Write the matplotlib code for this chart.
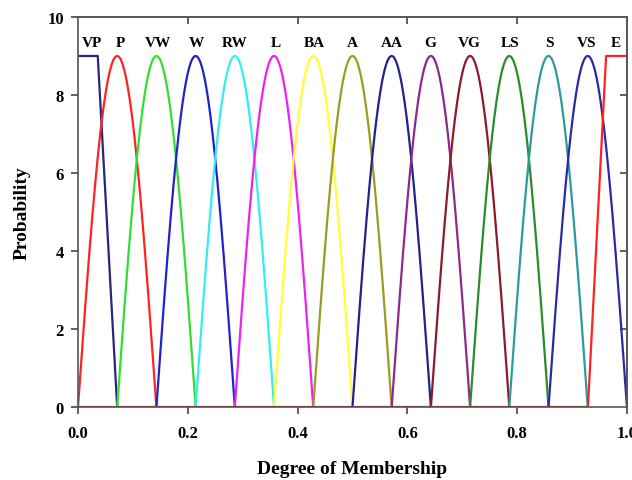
import numpy as np
import matplotlib
matplotlib.use("Agg")
import matplotlib.pyplot as plt

plt.rcParams['font.family'] = ['Liberation Serif', 'DejaVu Serif']
plt.rcParams['font.weight'] = 'bold'

labels = ["VP", "P", "VW", "W", "RW", "L", "BA", "A", "AA", "G", "VG", "LS", "S", "VS", "E"]
centers = [0.0, 0.0714, 0.1429, 0.2143, 0.2857, 0.3571, 0.4286, 0.5, 0.5714,
           0.6429, 0.7143, 0.7857, 0.8571, 0.9286, 1.0]
peak = 9.0
half_width = 0.0714
# shoulders of the end sets (flat top, then linear to zero)
vp_flat_end, vp_zero = 0.036, 0.0714
e_zero, e_flat_start = 0.929, 0.962
label_x = [0.026, 0.078, 0.145, 0.216, 0.285, 0.360, 0.43, 0.499, 0.571,
           0.642, 0.712, 0.787, 0.858, 0.927, 0.98]
colors = ["#26267f", "#ff2222", "#33dd33", "#2222cc", "#33eeee", "#ee22ee",
          "#ffff33", "#9c9c22", "#22228c", "#8c2a8c", "#8c1a2a", "#2a8c2a",
          "#2a9c9c", "#2a2aa8", "#ff2222"]

fig = plt.figure(figsize=(6.32, 4.81), dpi=100)
ax = fig.add_axes([0.1234, 0.1518, 0.8686, 0.8108])

# VP
ax.plot([0, vp_flat_end, vp_zero], [peak, peak, 0], color=colors[0], lw=1.6)
# middle arches
for c, col in zip(centers[1:-1], colors[1:-1]):
    x = np.linspace(c - half_width, c + half_width, 200)
    y = peak * np.sin(np.pi * (x - (c - half_width)) / (2 * half_width))
    ax.plot(x, y, color=col, lw=1.6)
# E
ax.plot([0, e_zero, e_flat_start, 1.0], [0, 0, peak, peak], color=colors[-1], lw=1.6)

for lx, lab in zip(label_x, labels):
    ax.text(lx, 9.35, lab, ha='center', va='center', fontsize=11, fontweight='bold')

ax.set_xlim(0, 1)
ax.set_ylim(0, 10)
ax.set_xticks([0, 0.2, 0.4, 0.6, 0.8, 1.0])
ax.set_xticklabels(["0.0", "0.2", "0.4", "0.6", "0.8", "1.0"])
ax.set_yticks([0, 2, 4, 6, 8, 10])
ax.tick_params(axis='both', which='both', labelsize=12, length=5, width=1.2,
               colors='#444444', labelcolor='black')
ax.tick_params(axis='x', direction='out', top=False, pad=8)
ax.tick_params(axis='y', direction='out', right=False, pad=5)
ax2 = ax.secondary_xaxis('top')
ax2.set_xticks([0.2, 0.4, 0.6, 0.8])
ax2.tick_params(direction='in', length=5, width=1.2, colors='#444444', labeltop=False)
ax3 = ax.secondary_yaxis('right')
ax3.set_yticks([2, 4, 6, 8])
ax3.tick_params(direction='in', length=5, width=1.2, colors='#444444', labelright=False)
for a in (ax, ax2, ax3):
    for s in a.spines.values():
        s.set_color('#555555')
        s.set_linewidth(1.2)

ax.set_xlabel("Degree of Membership", fontsize=14, fontweight='bold', labelpad=14)
ax.set_ylabel("Probability", fontsize=14, fontweight='bold', labelpad=12)

fig.savefig("out.png", dpi=100)
